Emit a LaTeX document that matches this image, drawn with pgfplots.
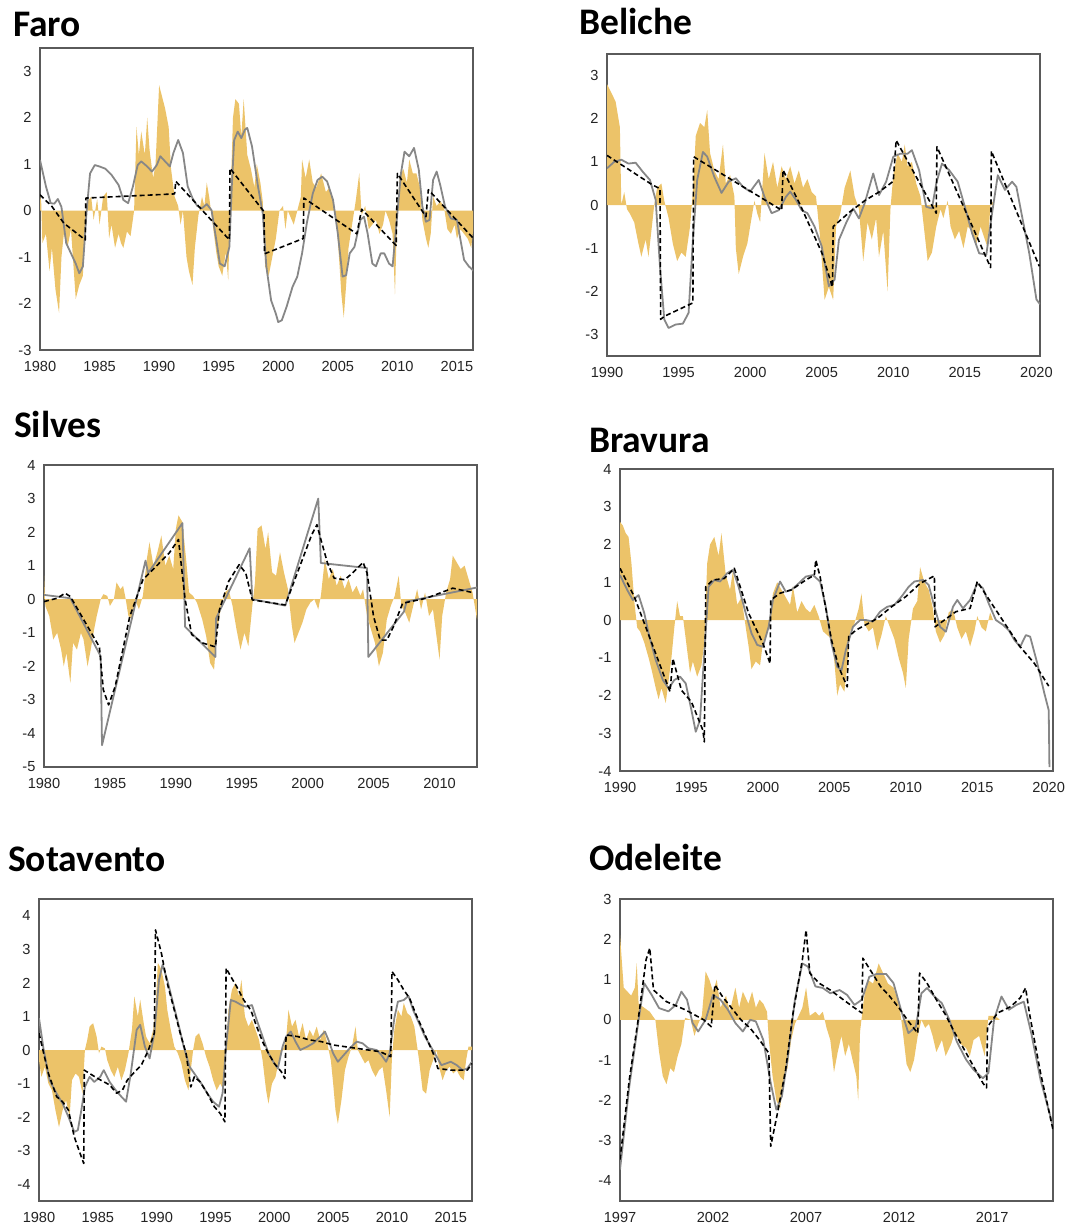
\documentclass[border=0pt]{standalone}
\usepackage{pgfplots}
\pgfplotsset{compat=1.18}
\usepackage{fontspec}
\setmainfont{Liberation Sans}
\newfontfamily\titlefont{Carlito}
\definecolor{spi}{RGB}{236,195,105}
\definecolor{grayline}{RGB}{135,135,135}
\definecolor{frame}{RGB}{90,90,90}
\definecolor{ticktext}{RGB}{35,35,35}
\pgfplotsset{
  panel/.style={
    scale only axis, width=433pt, height=302pt, anchor=south west,
    axis line style={frame, line width=1.1pt},
    major tick length=0pt,
    tick label style={font=\fontsize{14.6}{16}\selectfont, text=ticktext},
    xticklabel shift=8pt, yticklabel shift=5pt,
  },
  spiarea/.style={fill=spi, draw=none},
  ll/.style={grayline, line width=1.8pt, line join=round},
  dl/.style={black, line width=1.6pt, dash pattern=on 5pt off 3pt, line join=round},
}
\newcommand{\paneltitle}[3]{\node[anchor=base west, inner sep=0pt, font=\titlefont\bfseries\fontsize{37.5}{42}\selectfont] at (#1pt,-#2pt) {#3};}
\begin{document}
\begin{tikzpicture}
\path[use as bounding box] (0,0) rectangle (1067pt,-1226pt);
\paneltitle{13}{36}{Faro}
\paneltitle{579}{34}{Beliche}
\paneltitle{14}{437}{Silves}
\paneltitle{589}{452}{Bravura}
\paneltitle{8}{871}{Sotavento}
\paneltitle{589}{870}{Odeleite}

% ---------------- Faro
\begin{axis}[panel, at={(40pt,-350pt)},
  xmin=1980, xmax=2016.35, ymin=-3, ymax=3.5,
  xtick={1980,1985,1990,1995,2000,2005,2010,2015},
  xticklabels={1980,1985,1990,1995,2000,2005,2010,2015},
  ytick={-3,-2,-1,0,1,2,3}, yticklabels={-3,-2,-1,0,1,2,3}]
\addplot[spiarea] coordinates {(1980,0) (1980,0.3) (1980.1,0.2) (1980.2,-0.7) (1980.5,-0.5) (1980.8,-1.3) (1981.0,-0.8) (1981.3,-1.7) (1981.6,-2.2) (1981.8,-1.0) (1982.0,-0.5) (1982.3,-0.8) (1982.6,-0.4) (1983.0,-1.9) (1983.3,-1.6) (1983.6,-1.4) (1983.8,-0.3) (1984.0,0.2) (1984.3,0.3) (1984.5,-0.2) (1984.8,0.25) (1985.0,-0.3) (1985.3,0.3) (1985.6,0.4) (1985.8,-0.6) (1986.0,-0.3) (1986.3,-0.8) (1986.6,-0.5) (1986.8,-0.7) (1987.0,-0.8) (1987.3,-0.45) (1987.6,-0.55) (1987.9,0.0) (1988.1,1.8) (1988.3,1.2) (1988.5,1.7) (1988.8,1.2) (1989.0,2.0) (1989.2,1.3) (1989.5,0.7) (1989.7,1.0) (1990.0,2.7) (1990.2,2.5) (1990.5,2.2) (1990.8,1.8) (1991.0,0.9) (1991.3,0.3) (1991.6,0.1) (1991.8,-0.3) (1992.0,0.0) (1992.3,-1.0) (1992.5,-1.3) (1992.8,-1.6) (1993.0,-0.8) (1993.3,-0.1) (1993.6,0.3) (1993.8,0.1) (1994.0,0.6) (1994.2,0.3) (1994.5,-0.3) (1994.8,-0.9) (1995.0,-1.2) (1995.3,-1.4) (1995.6,-0.9) (1995.8,-1.5) (1996.0,0.3) (1996.2,2.0) (1996.4,2.4) (1996.7,2.3) (1996.9,1.6) (1997.1,2.4) (1997.4,1.2) (1997.7,0.9) (1998.0,0.5) (1998.2,1.0) (1998.5,0.6) (1998.7,0.2) (1998.9,-1.2) (1999.2,-1.4) (1999.5,-1.0) (1999.8,-0.6) (2000.1,0.0) (2000.4,0.1) (2000.6,-0.4) (2000.8,0.0) (2001.3,-0.3) (2001.6,0.0) (2001.9,0.3) (2002.0,1.1) (2002.3,0.7) (2002.6,1.1) (2002.9,0.6) (2003.2,0.5) (2003.6,0.8) (2004.0,0.4) (2004.3,0.5) (2004.6,0.2) (2004.9,-0.3) (2005.1,-1.0) (2005.3,-1.8) (2005.5,-2.3) (2005.7,-1.6) (2005.9,-0.8) (2006.2,-0.3) (2006.5,0.2) (2006.8,0.8) (2007.0,-0.1) (2007.3,0.1) (2007.6,-0.4) (2007.9,-0.3) (2008.2,-0.2) (2008.5,-0.5) (2008.8,-0.3) (2009.0,0.0) (2009.3,-0.2) (2009.6,-0.5) (2009.8,-1.8) (2010.0,0.1) (2010.2,0.7) (2010.5,0.9) (2010.8,0.6) (2011.0,1.1) (2011.3,0.8) (2011.6,0.8) (2011.9,0.5) (2012.1,-0.2) (2012.4,-0.6) (2012.6,-0.8) (2012.8,-0.5) (2013.0,0.3) (2013.3,0.1) (2013.6,0.2) (2013.9,0.1) (2014.2,-0.4) (2014.5,-0.5) (2014.8,-0.3) (2015.0,-0.6) (2015.3,-0.4) (2015.6,-0.5) (2015.9,-0.6) (2016.2,-0.8) (2016.5,-0.1) (2016.5,0)} -- cycle;
\addplot[ll] coordinates {(1980.0,1.09) (1980.5,0.52) (1980.9,0.16) (1981.2,0.15) (1981.5,0.25) (1981.8,0.08) (1982.2,-0.7) (1982.6,-0.92) (1983.0,-1.14) (1983.3,-1.35) (1983.6,-1.2) (1983.9,-0.06) (1984.2,0.8) (1984.6,0.98) (1985.0,0.95) (1985.5,0.9) (1986.0,0.77) (1986.6,0.55) (1987.0,0.23) (1987.4,0.16) (1987.8,0.52) (1988.2,0.98) (1988.5,1.06) (1989.0,0.95) (1989.4,0.84) (1989.8,0.98) (1990.1,1.17) (1990.5,1.06) (1990.9,0.95) (1991.2,1.24) (1991.6,1.52) (1992.0,1.24) (1992.4,0.52) (1992.8,0.27) (1993.2,0.1) (1993.6,0.05) (1994.0,0.14) (1994.4,0.01) (1994.8,-0.63) (1995.1,-1.14) (1995.5,-1.2) (1995.9,-0.78) (1996.1,0.52) (1996.3,1.52) (1996.6,1.7) (1996.9,1.56) (1997.2,1.74) (1997.4,1.78) (1997.8,1.38) (1998.3,0.52) (1998.7,-0.06) (1999.0,-1.2) (1999.4,-1.93) (1999.8,-2.22) (2000.0,-2.4) (2000.3,-2.36) (2000.7,-2.07) (2001.2,-1.64) (2001.6,-1.42) (2002.0,-0.92) (2002.4,-0.27) (2002.9,0.37) (2003.3,0.66) (2003.7,0.73) (2004.1,0.63) (2004.6,0.23) (2005.0,-0.49) (2005.4,-1.42) (2005.7,-1.39) (2006.0,-0.92) (2006.4,-0.78) (2006.9,-0.2) (2007.2,-0.13) (2007.5,-0.49) (2007.9,-1.14) (2008.2,-1.2) (2008.6,-0.92) (2008.9,-0.92) (2009.3,-1.14) (2009.6,-1.2) (2009.9,-0.35) (2010.3,0.8) (2010.6,1.27) (2011.0,1.17) (2011.4,1.35) (2011.8,0.88) (2012.1,0.09) (2012.4,-0.24) (2012.7,-0.2) (2013.0,0.66) (2013.3,0.84) (2013.6,0.55) (2014.0,0.09) (2014.5,-0.17) (2015.0,-0.2) (2015.3,-0.63) (2015.6,-1.06) (2016.0,-1.2) (2016.5,-1.32)};
\addplot[dl] coordinates {(1980.0,0.34) (1981.0,0.09) (1982.0,-0.27) (1983.8,-0.63) (1983.85,0.27) (1991.3,0.36) (1991.4,0.63) (1995.9,-0.63) (1995.95,0.91) (1998.8,-0.02) (1998.85,-0.93) (2002.1,-0.6) (2002.15,0.27) (2004.0,-0.05) (2006.6,-0.5) (2007.0,0.03) (2009.9,-0.75) (2010.0,0.8) (2012.4,-0.13) (2012.6,0.45) (2016.5,-0.63)};
\end{axis}

% ---------------- Beliche
\begin{axis}[panel, at={(607pt,-356pt)},
  xmin=1990, xmax=2020.25, ymin=-3.5, ymax=3.5,
  xtick={1990,1995,2000,2005,2010,2015,2020},
  xticklabels={1990,1995,2000,2005,2010,2015,2020},
  ytick={-3,-2,-1,0,1,2,3}, yticklabels={-3,-2,-1,0,1,2,3}]
\addplot[spiarea] coordinates {(1990,0) (1990.0,2.8) (1990.3,2.6) (1990.6,2.4) (1990.9,1.8) (1991.0,0.0) (1991.2,0.3) (1991.4,-0.1) (1991.6,-0.2) (1991.9,-0.4) (1992.2,-0.9) (1992.4,-1.2) (1992.7,-0.8) (1992.9,-1.2) (1993.1,-0.6) (1993.3,0.0) (1993.5,0.4) (1993.8,0.5) (1994.0,0.1) (1994.3,-0.3) (1994.6,-0.9) (1994.9,-1.3) (1995.2,-1.1) (1995.5,-1.2) (1995.8,-0.5) (1996.0,0.3) (1996.2,1.6) (1996.5,1.9) (1996.8,1.8) (1997.0,2.2) (1997.2,1.2) (1997.5,0.8) (1997.8,0.6) (1998.1,1.4) (1998.3,0.5) (1998.6,0.7) (1998.9,0.2) (1999.0,-1.0) (1999.2,-1.6) (1999.5,-1.2) (1999.8,-0.9) (2000.0,-0.5) (2000.3,0.1) (2000.5,-0.2) (2000.7,-0.4) (2001.0,1.2) (2001.3,0.6) (2001.6,1.0) (2001.9,0.4) (2002.2,0.9) (2002.5,0.6) (2002.8,0.9) (2003.1,0.5) (2003.4,0.8) (2003.7,0.4) (2004.0,0.6) (2004.3,0.3) (2004.6,0.2) (2004.9,-0.8) (2005.2,-2.2) (2005.5,-1.9) (2005.8,-2.2) (2006.0,-0.5) (2006.3,-0.2) (2006.6,0.4) (2007.0,0.8) (2007.3,0.2) (2007.6,-0.1) (2007.9,-1.3) (2008.2,-0.4) (2008.5,-0.8) (2008.8,-0.3) (2009.0,-1.2) (2009.3,-0.6) (2009.6,-2.0) (2009.8,-0.1) (2010.0,0.7) (2010.3,1.2) (2010.6,1.0) (2010.8,1.4) (2011.0,0.9) (2011.3,1.0) (2011.6,0.5) (2011.9,0.2) (2012.1,-0.4) (2012.4,-1.3) (2012.7,-1.1) (2013.0,-0.5) (2013.3,-0.1) (2013.5,-0.3) (2013.8,0.1) (2014.0,-0.5) (2014.3,-0.8) (2014.6,-0.6) (2014.9,-1.0) (2015.2,-0.5) (2015.5,-0.6) (2015.8,-0.9) (2016.1,-0.5) (2016.4,-0.8) (2016.6,-1.0) (2016.8,0.1) (2017.0,0.05) (2017.05,0)} -- cycle;
\addplot[ll] coordinates {(1990.0,0.85) (1990.5,1.0) (1991.0,1.05) (1991.5,0.96) (1992.0,0.98) (1992.5,0.77) (1993.0,0.58) (1993.4,0.12) (1993.7,-1.42) (1994.0,-2.65) (1994.3,-2.85) (1994.8,-2.77) (1995.3,-2.75) (1995.7,-2.5) (1996.0,-0.81) (1996.3,0.58) (1996.7,1.23) (1997.0,1.12) (1997.5,0.65) (1998.0,0.28) (1998.5,0.54) (1999.0,0.62) (1999.5,0.42) (2000.0,0.31) (2000.6,0.58) (2001.0,0.19) (2001.5,-0.19) (2002.0,-0.12) (2002.5,0.19) (2002.8,0.31) (2003.2,0.12) (2003.6,-0.12) (2004.0,-0.19) (2004.5,-0.5) (2005.0,-0.96) (2005.5,-1.88) (2005.9,-1.73) (2006.2,-0.81) (2006.7,-0.42) (2007.2,-0.08) (2007.6,-0.31) (2008.0,0.04) (2008.6,0.73) (2009.0,0.23) (2009.5,0.54) (2010.0,1.12) (2010.5,1.19) (2011.0,1.19) (2011.3,1.27) (2011.8,0.81) (2012.3,-0.04) (2012.7,-0.08) (2013.0,0.5) (2013.4,0.96) (2013.9,0.81) (2014.5,0.54) (2015.0,-0.04) (2015.5,-0.65) (2016.0,-1.12) (2016.5,-1.15) (2016.9,-0.19) (2017.3,0.69) (2017.8,0.35) (2018.3,0.54) (2018.6,0.42) (2019.0,-0.27) (2019.5,-1.12) (2020.0,-2.19) (2020.25,-2.3)};
\addplot[dl] coordinates {(1990.0,1.15) (1993.2,0.46) (1993.7,0.38) (1993.75,-2.65) (1994.0,-2.58) (1996.0,-2.27) (1996.05,1.12) (2002.2,-0.12) (2002.3,0.81) (2003.5,0.0) (2005.0,-1.1) (2005.75,-1.9) (2005.8,-0.5) (2007.0,-0.15) (2008.0,0.1) (2009.0,0.3) (2010.0,0.55) (2010.2,1.5) (2013.0,-0.19) (2013.05,1.35) (2016.8,-1.45) (2016.85,1.25) (2020.2,-1.42)};
\end{axis}

% ---------------- Silves
\begin{axis}[panel, at={(44pt,-767pt)},
  xmin=1980, xmax=2012.84, ymin=-5, ymax=4,
  xtick={1980,1985,1990,1995,2000,2005,2010},
  xticklabels={1980,1985,1990,1995,2000,2005,2010},
  ytick={-5,-4,-3,-2,-1,0,1,2,3,4}, yticklabels={-5,-4,-3,-2,-1,0,1,2,3,4}]
\addplot[spiarea] coordinates {(1980,0) (1980.0,0.7) (1980.1,-0.2) (1980.4,-0.5) (1980.7,-1.2) (1981.0,-1.0) (1981.3,-1.5) (1981.5,-2.0) (1981.7,-1.6) (1982.0,-2.5) (1982.2,-1.3) (1982.5,-1.5) (1982.8,-1.0) (1983.0,-1.2) (1983.3,-2.0) (1983.5,-1.6) (1983.8,-0.9) (1984.0,-0.5) (1984.3,0.0) (1984.5,0.15) (1984.8,0.1) (1985.0,-0.2) (1985.3,0.0) (1985.5,0.5) (1985.8,0.3) (1986.0,0.4) (1986.2,0.0) (1986.4,-0.5) (1986.7,-0.6) (1986.9,0.0) (1987.2,-0.3) (1987.5,0.1) (1987.8,1.2) (1988.0,1.7) (1988.3,1.0) (1988.6,1.4) (1988.9,1.9) (1989.2,1.0) (1989.5,1.3) (1989.8,0.9) (1990.0,2.1) (1990.2,2.5) (1990.5,2.3) (1990.8,1.1) (1991.0,0.2) (1991.3,0.1) (1991.6,-0.1) (1992.0,-0.6) (1992.3,-1.1) (1992.6,-1.9) (1992.9,-2.1) (1993.1,-1.0) (1993.4,-0.3) (1993.7,0.2) (1994.0,0.3) (1994.3,-0.2) (1994.6,-0.9) (1994.9,-1.5) (1995.2,-1.0) (1995.5,-1.4) (1995.8,-0.2) (1996.0,0.5) (1996.2,2.1) (1996.5,2.2) (1996.8,1.5) (1997.0,2.0) (1997.3,0.8) (1997.6,0.7) (1997.9,1.4) (1998.2,0.8) (1998.5,0.3) (1998.8,-0.8) (1999.0,-1.3) (1999.3,-1.0) (1999.6,-0.7) (1999.9,-0.3) (2000.2,-0.1) (2000.5,0.0) (2000.8,-0.3) (2001.0,0.1) (2001.3,1.2) (2001.6,0.6) (2001.9,0.9) (2002.2,0.4) (2002.5,0.7) (2002.8,0.3) (2003.1,0.6) (2003.4,0.2) (2003.7,0.4) (2004.0,0.1) (2004.2,0.3) (2004.5,-0.5) (2004.8,-0.9) (2005.1,-1.3) (2005.4,-2.0) (2005.7,-1.6) (2006.0,-0.6) (2006.3,-0.2) (2006.6,0.1) (2006.9,0.7) (2007.1,-0.2) (2007.4,-0.4) (2007.7,-0.7) (2008.0,-0.2) (2008.3,0.3) (2008.6,-0.3) (2008.9,0.2) (2009.2,-0.5) (2009.5,-0.3) (2009.8,-1.2) (2010.0,-1.8) (2010.2,-0.5) (2010.5,0.2) (2010.8,0.6) (2011.0,1.3) (2011.3,1.1) (2011.6,0.9) (2011.9,1.0) (2012.2,0.6) (2012.5,0.2) (2012.84,-0.6) (2012.84,0)} -- cycle;
\addplot[ll] coordinates {(1980.0,0.13) (1982.0,0.03) (1984.3,-1.7) (1984.4,-4.35) (1987.7,1.15) (1987.9,0.78) (1990.5,2.27) (1990.7,-0.82) (1993.0,-1.72) (1993.05,-0.57) (1995.6,1.52) (1995.8,0.0) (1998.3,-0.19) (2000.8,3.0) (2001.0,1.08) (2004.5,0.93) (2004.6,-1.72) (2007.3,-0.37) (2007.5,-0.07) (2012.84,0.35)};
\addplot[dl] coordinates {(1980.0,-0.07) (1981.0,0.03) (1981.6,0.18) (1982.0,0.08) (1984.2,-1.42) (1984.5,-2.7) (1984.9,-3.15) (1985.4,-2.6) (1986.5,-0.52) (1987.5,0.58) (1988.5,0.98) (1989.5,1.38) (1990.2,1.78) (1990.7,0.0) (1991.2,-1.05) (1992.0,-1.3) (1993.0,-1.42) (1993.3,-0.32) (1994.0,0.53) (1994.8,1.03) (1995.3,0.78) (1995.8,-0.02) (1998.3,-0.17) (2000.3,1.92) (2000.7,2.22) (2001.0,1.78) (2001.5,1.08) (2002.0,0.63) (2002.8,0.58) (2003.4,0.78) (2004.2,1.1) (2004.5,0.78) (2005.0,-0.52) (2005.5,-1.22) (2006.0,-1.22) (2006.5,-0.82) (2007.2,-0.12) (2009.0,0.03) (2011.0,0.33) (2012.5,0.2)};
\end{axis}

% ---------------- Bravura
\begin{axis}[panel, at={(620pt,-771pt)},
  xmin=1990, xmax=2020.3, ymin=-4, ymax=4,
  xtick={1990,1995,2000,2005,2010,2015,2020},
  xticklabels={1990,1995,2000,2005,2010,2015,2020},
  ytick={-4,-3,-2,-1,0,1,2,3,4}, yticklabels={-4,-3,-2,-1,0,1,2,3,4}]
\addplot[spiarea] coordinates {(1990,0) (1990.0,2.6) (1990.2,2.5) (1990.4,2.3) (1990.6,2.2) (1990.8,1.5) (1991.0,0.5) (1991.2,-0.2) (1991.4,-0.3) (1991.7,-0.6) (1992.0,-1.0) (1992.2,-1.3) (1992.5,-1.8) (1992.7,-2.1) (1992.9,-1.8) (1993.2,-2.2) (1993.4,-1.6) (1993.6,-1.0) (1993.8,-0.2) (1994.0,0.5) (1994.2,0.1) (1994.4,0.1) (1994.6,-0.5) (1994.9,-1.4) (1995.1,-1.1) (1995.4,-1.5) (1995.7,-1.2) (1995.9,-0.6) (1996.1,1.5) (1996.3,2.0) (1996.6,2.2) (1996.9,1.7) (1997.1,2.3) (1997.4,1.2) (1997.7,0.8) (1997.9,1.3) (1998.2,0.4) (1998.5,0.6) (1998.8,-0.2) (1999.0,-0.7) (1999.2,-1.3) (1999.5,-1.1) (1999.8,-1.2) (2000.0,-0.6) (2000.3,-0.3) (2000.5,0.0) (2000.7,0.7) (2001.0,1.0) (2001.3,0.8) (2001.6,0.6) (2001.9,0.4) (2002.1,0.9) (2002.4,0.2) (2002.7,0.5) (2003.0,0.3) (2003.3,0.2) (2003.6,0.4) (2003.9,0.1) (2004.2,-0.3) (2004.5,-0.4) (2004.8,-0.5) (2005.0,-1.1) (2005.2,-2.0) (2005.4,-1.7) (2005.7,-1.9) (2005.9,-1.2) (2006.1,-0.3) (2006.4,-0.1) (2006.7,0.3) (2006.9,0.7) (2007.1,-0.1) (2007.4,-0.3) (2007.7,-0.2) (2008.0,-0.8) (2008.3,-0.4) (2008.6,0.1) (2008.9,-0.2) (2009.2,-0.5) (2009.5,-1.0) (2009.8,-1.4) (2010.0,-1.8) (2010.2,-0.5) (2010.5,0.3) (2010.8,0.5) (2011.0,1.4) (2011.3,1.0) (2011.6,0.8) (2011.9,0.3) (2012.1,-0.3) (2012.4,-0.6) (2012.7,-0.4) (2013.0,0.2) (2013.3,0.3) (2013.6,-0.2) (2013.9,-0.5) (2014.2,-0.3) (2014.5,-0.7) (2014.8,-0.3) (2015.0,0.1) (2015.3,-0.2) (2015.6,-0.3) (2015.9,0.2) (2016.1,0.0)} -- cycle;
\addplot[ll] coordinates {(1990.0,1.19) (1990.5,0.8) (1990.9,0.53) (1991.3,0.66) (1991.7,0.18) (1992.0,-0.35) (1992.5,-1.06) (1993.0,-1.59) (1993.4,-1.81) (1993.8,-1.59) (1994.2,-1.5) (1994.6,-1.68) (1995.0,-2.39) (1995.3,-2.96) (1995.6,-2.65) (1995.9,-0.88) (1996.2,0.88) (1996.6,1.06) (1997.0,1.02) (1997.5,1.24) (1997.9,1.33) (1998.3,0.88) (1998.8,0.18) (1999.2,-0.35) (1999.6,-0.66) (2000.0,-0.71) (2000.4,-0.18) (2000.7,0.53) (2001.2,1.02) (2001.6,0.75) (2002.0,0.8) (2002.5,0.97) (2003.0,1.15) (2003.5,1.19) (2004.0,1.02) (2004.4,0.35) (2004.8,-0.62) (2005.2,-1.24) (2005.5,-1.33) (2005.8,-0.8) (2006.3,-0.18) (2006.8,0.0) (2007.2,0.0) (2007.7,-0.04) (2008.2,0.22) (2008.7,0.35) (2009.2,0.4) (2009.7,0.62) (2010.2,0.88) (2010.6,1.02) (2011.2,1.06) (2011.6,0.93) (2012.0,0.35) (2012.4,-0.18) (2012.8,-0.31) (2013.3,0.35) (2013.6,0.53) (2014.0,0.31) (2014.5,0.53) (2015.0,0.97) (2015.4,0.84) (2015.8,0.44) (2016.3,0.0) (2016.8,-0.13) (2017.2,-0.27) (2017.6,-0.53) (2018.0,-0.71) (2018.4,-0.4) (2018.7,-0.44) (2019.2,-1.15) (2019.7,-1.95) (2020.0,-2.39) (2020.05,-3.9)};
\addplot[dl] coordinates {(1990.0,1.37) (1991.0,0.62) (1993.5,-1.9) (1993.7,-1.02) (1994.3,-1.86) (1995.0,-2.17) (1995.8,-2.92) (1995.9,-3.23) (1996.0,0.88) (1996.5,1.06) (1997.3,1.1) (1998.0,1.37) (1999.0,0.18) (2000.0,-0.62) (2000.5,-1.15) (2000.55,0.53) (2001.2,0.71) (2002.0,0.8) (2003.0,1.06) (2003.6,1.19) (2003.7,1.59) (2004.0,1.15) (2004.8,-0.53) (2005.3,-1.24) (2005.9,-1.77) (2006.0,-0.44) (2006.5,-0.27) (2008.0,0.04) (2009.0,0.35) (2010.0,0.62) (2011.0,0.97) (2012.0,1.17) (2012.05,-0.18) (2013.5,0.22) (2014.5,0.31) (2015.0,1.02) (2016.0,0.44) (2018.0,-0.71) (2019.0,-1.15) (2020.0,-1.75)};
\end{axis}

% ---------------- Sotavento
\begin{axis}[panel, at={(39pt,-1201pt)},
  xmin=1980, xmax=2016.8, ymin=-4.5, ymax=4.5,
  xtick={1980,1985,1990,1995,2000,2005,2010,2015},
  xticklabels={1980,1985,1990,1995,2000,2005,2010,2015},
  ytick={-4,-3,-2,-1,0,1,2,3,4}, yticklabels={-4,-3,-2,-1,0,1,2,3,4}]
\addplot[spiarea] coordinates {(1980,0) (1980.0,-0.3) (1980.2,-0.8) (1980.5,-0.5) (1980.8,-1.0) (1981.1,-1.2) (1981.4,-1.8) (1981.7,-2.3) (1982.0,-1.8) (1982.3,-1.5) (1982.6,-2.0) (1982.8,-0.9) (1983.1,-0.7) (1983.4,-0.8) (1983.7,-1.3) (1983.9,0.0) (1984.1,0.3) (1984.3,0.7) (1984.6,0.8) (1984.9,0.4) (1985.1,-0.1) (1985.3,0.1) (1985.6,0.05) (1985.8,-0.3) (1986.1,-0.6) (1986.4,-0.8) (1986.7,-0.5) (1987.0,-0.9) (1987.3,-0.6) (1987.6,-0.1) (1987.9,0.6) (1988.1,1.6) (1988.4,1.0) (1988.6,1.5) (1988.9,0.8) (1989.1,0.4) (1989.4,0.2) (1989.7,0.6) (1989.9,1.2) (1990.1,2.6) (1990.4,2.4) (1990.7,1.9) (1990.9,1.2) (1991.2,0.6) (1991.5,0.1) (1991.8,-0.1) (1992.1,-0.4) (1992.4,-0.9) (1992.7,-1.2) (1992.9,-0.6) (1993.1,0.0) (1993.3,0.4) (1993.6,0.5) (1993.9,0.2) (1994.2,-0.2) (1994.5,-0.5) (1994.8,-0.9) (1995.1,-1.2) (1995.4,-1.0) (1995.7,-1.2) (1995.9,0.0) (1996.1,1.2) (1996.4,1.8) (1996.7,2.0) (1997.0,1.6) (1997.2,2.1) (1997.5,1.0) (1997.8,0.7) (1998.1,0.9) (1998.4,0.6) (1998.7,0.3) (1999.0,-0.3) (1999.3,-1.2) (1999.5,-1.6) (1999.8,-1.0) (2000.1,-0.8) (2000.4,-0.3) (2000.7,0.0) (2001.0,0.3) (2001.2,1.2) (2001.5,0.7) (2001.8,0.9) (2002.1,0.4) (2002.4,0.8) (2002.7,0.3) (2003.0,0.6) (2003.3,0.4) (2003.6,0.7) (2003.9,0.3) (2004.2,0.6) (2004.5,0.2) (2004.8,-0.3) (2005.0,-1.0) (2005.2,-1.8) (2005.4,-2.2) (2005.7,-1.5) (2006.0,-0.6) (2006.3,-0.2) (2006.6,0.1) (2006.9,0.7) (2007.1,0.0) (2007.4,-0.2) (2007.7,-0.4) (2008.0,-0.3) (2008.3,-0.6) (2008.6,-0.8) (2008.9,-0.6) (2009.2,-0.5) (2009.5,-1.2) (2009.8,-2.0) (2010.0,-0.2) (2010.2,0.6) (2010.5,1.2) (2010.8,1.0) (2011.0,1.4) (2011.3,1.1) (2011.6,1.0) (2011.9,0.7) (2012.1,0.2) (2012.3,-0.3) (2012.6,-1.2) (2012.9,-1.3) (2013.2,-0.6) (2013.5,-0.3) (2013.8,0.0) (2014.0,-0.5) (2014.3,-0.9) (2014.6,-0.6) (2014.9,-0.5) (2015.2,-0.7) (2015.5,-0.6) (2015.8,-0.8) (2016.1,-0.9) (2016.3,-0.3) (2016.5,0.1) (2016.8,0.1) (2016.8,0)} -- cycle;
\addplot[ll] coordinates {(1980.0,0.95) (1980.4,0.0) (1980.9,-0.9) (1981.5,-1.3) (1982.0,-1.59) (1982.5,-1.99) (1983.0,-2.44) (1983.3,-2.39) (1983.6,-1.79) (1983.9,-1.1) (1984.3,-0.8) (1984.7,-0.95) (1985.2,-0.8) (1985.5,-0.6) (1986.0,-0.95) (1986.5,-1.19) (1987.0,-1.39) (1987.4,-1.54) (1987.8,-0.7) (1988.3,0.6) (1988.6,0.75) (1989.0,0.1) (1989.4,-0.25) (1989.8,0.5) (1990.2,2.09) (1990.5,2.54) (1990.9,2.09) (1991.4,1.39) (1991.9,0.7) (1992.3,0.1) (1992.8,-0.5) (1993.3,-0.75) (1993.8,-1.0) (1994.3,-1.29) (1994.8,-1.54) (1995.3,-1.69) (1995.6,-1.29) (1995.9,0.1) (1996.3,1.49) (1996.7,1.44) (1997.2,1.34) (1997.6,1.29) (1998.1,1.34) (1998.5,0.9) (1999.0,0.4) (1999.5,-0.1) (2000.0,-0.4) (2000.3,-0.55) (2000.7,0.1) (2001.0,0.4) (2001.4,0.55) (2001.8,0.25) (2002.2,0.0) (2002.8,0.1) (2003.3,0.2) (2003.9,0.4) (2004.3,0.55) (2004.6,0.3) (2005.0,-0.1) (2005.4,-0.35) (2005.9,-0.15) (2006.4,0.05) (2007.0,0.25) (2007.5,0.2) (2008.0,0.05) (2008.7,0.0) (2009.1,-0.15) (2009.5,-0.35) (2009.8,-0.1) (2010.2,0.95) (2010.5,1.44) (2011.0,1.49) (2011.4,1.61) (2011.8,1.19) (2012.3,0.8) (2012.8,0.4) (2013.3,0.1) (2013.8,-0.2) (2014.2,-0.45) (2014.6,-0.4) (2015.0,-0.35) (2015.5,-0.45) (2016.0,-0.6) (2016.4,-0.55) (2016.8,-0.35)};
\addplot[dl] coordinates {(1980.0,0.5) (1980.8,-0.7) (1981.5,-1.39) (1982.0,-1.54) (1982.5,-1.79) (1983.0,-2.59) (1983.4,-2.99) (1983.8,-3.38) (1983.85,-0.6) (1984.3,-0.7) (1985.0,-0.85) (1986.0,-1.04) (1986.6,-1.29) (1987.1,-1.19) (1987.5,-0.9) (1988.0,-0.7) (1988.7,-0.45) (1989.3,0.0) (1989.8,0.5) (1989.9,3.58) (1990.4,2.89) (1990.9,1.99) (1991.5,1.19) (1992.0,0.5) (1992.5,-0.1) (1992.9,-1.1) (1993.2,-0.8) (1993.7,-0.95) (1994.3,-1.29) (1994.9,-1.69) (1995.4,-1.89) (1995.8,-2.14) (1995.9,2.44) (1996.3,2.19) (1996.8,1.89) (1997.4,1.49) (1998.0,1.19) (1998.5,0.7) (1999.0,0.25) (1999.5,-0.1) (2000.0,-0.4) (2000.6,-0.65) (2000.9,-0.85) (2001.0,0.45) (2002.0,0.4) (2003.0,0.3) (2004.0,0.25) (2005.0,0.15) (2006.0,0.1) (2007.0,0.05) (2008.0,0.0) (2009.0,-0.05) (2009.9,-0.2) (2010.0,2.34) (2010.5,2.09) (2011.0,1.79) (2011.5,1.54) (2012.0,1.09) (2012.5,0.7) (2013.0,0.3) (2013.5,-0.1) (2013.9,-0.55) (2015.0,-0.6) (2016.4,-0.6) (2016.8,-0.4)};
\end{axis}

% ---------------- Odeleite
\begin{axis}[panel, at={(620pt,-1201pt)},
  xmin=1997, xmax=2020.27, ymin=-4.5, ymax=3,
  xtick={1997,2002,2007,2012,2017},
  xticklabels={1997,2002,2007,2012,2017},
  ytick={-4,-3,-2,-1,0,1,2,3}, yticklabels={-4,-3,-2,-1,0,1,2,3}]
\addplot[spiarea] coordinates {(1997,0) (1997.0,2.1) (1997.2,0.8) (1997.4,0.7) (1997.6,0.6) (1997.8,0.8) (1997.9,1.4) (1998.0,0.4) (1998.3,0.3) (1998.6,0.2) (1998.9,0.0) (1999.1,-0.8) (1999.3,-1.4) (1999.5,-1.6) (1999.7,-1.2) (1999.9,-1.3) (2000.1,-0.9) (2000.3,-0.6) (2000.5,0.05) (2000.8,0.0) (2001.0,-0.4) (2001.2,-0.1) (2001.4,0.1) (2001.6,1.2) (2001.8,1.0) (2002.0,0.7) (2002.2,1.0) (2002.4,0.3) (2002.7,0.6) (2002.9,0.2) (2003.2,0.8) (2003.4,0.3) (2003.6,0.7) (2003.9,0.4) (2004.1,0.7) (2004.3,0.3) (2004.5,0.5) (2004.7,0.4) (2004.9,0.2) (2005.0,-0.5) (2005.2,-1.4) (2005.4,-2.0) (2005.6,-2.2) (2005.8,-1.5) (2006.0,-1.2) (2006.2,-0.5) (2006.4,-0.1) (2006.6,0.1) (2006.8,0.3) (2007.0,0.8) (2007.2,0.1) (2007.5,0.2) (2007.7,0.1) (2007.9,0.2) (2008.1,-0.2) (2008.3,-0.5) (2008.5,-1.3) (2008.7,-0.8) (2008.9,-0.4) (2009.1,-0.9) (2009.3,-0.6) (2009.5,-1.0) (2009.7,-1.4) (2009.8,-2.0) (2009.9,-0.3) (2010.1,0.5) (2010.3,1.0) (2010.6,0.9) (2010.9,1.4) (2011.1,1.2) (2011.4,0.9) (2011.7,0.8) (2012.0,0.4) (2012.2,-0.3) (2012.4,-1.1) (2012.6,-1.3) (2012.8,-1.0) (2013.0,-0.4) (2013.2,0.0) (2013.4,-0.2) (2013.6,-0.1) (2013.8,-0.4) (2014.0,-0.8) (2014.3,-0.5) (2014.5,-0.9) (2014.8,-0.6) (2015.0,-0.3) (2015.3,-0.6) (2015.6,-0.7) (2015.8,-0.9) (2016.0,-0.5) (2016.3,-0.4) (2016.6,-0.9) (2016.8,0.1) (2017.1,0.1) (2017.3,0.05) (2017.4,0)} -- cycle;
\addplot[ll] coordinates {(1997.0,-3.72) (1997.5,-1.65) (1998.0,0.0) (1998.3,0.91) (1998.7,0.62) (1999.1,0.29) (1999.6,0.21) (2000.0,0.37) (2000.3,0.7) (2000.6,0.5) (2000.9,-0.08) (2001.2,-0.29) (2001.6,0.0) (2002.0,0.62) (2002.4,0.5) (2002.8,0.25) (2003.2,-0.08) (2003.6,-0.29) (2004.0,0.0) (2004.3,-0.04) (2004.7,-0.5) (2005.1,-1.57) (2005.4,-2.23) (2005.7,-1.9) (2006.0,-0.99) (2006.4,0.5) (2006.8,1.4) (2007.1,1.32) (2007.5,0.83) (2007.9,0.79) (2008.3,0.66) (2008.8,0.74) (2009.2,0.62) (2009.6,0.37) (2010.0,0.5) (2010.4,1.07) (2010.8,1.14) (2011.3,1.14) (2011.7,0.91) (2012.1,0.25) (2012.5,-0.33) (2012.9,-0.17) (2013.2,0.66) (2013.5,0.79) (2013.9,0.58) (2014.3,0.41) (2014.7,0.0) (2015.1,-0.54) (2015.6,-0.99) (2016.0,-1.24) (2016.5,-1.45) (2016.8,-1.32) (2017.1,0.0) (2017.5,0.58) (2017.9,0.25) (2018.3,0.37) (2018.7,0.45) (2019.1,-0.33) (2019.6,-1.49) (2020.27,-2.64)};
\addplot[dl] coordinates {(1997.0,-3.47) (1997.5,-1.49) (1998.0,0.08) (1998.4,1.49) (1998.6,1.78) (1998.8,0.74) (1999.5,0.45) (2000.5,0.25) (2001.5,0.0) (2001.9,-0.17) (2002.1,0.87) (2002.5,0.58) (2003.0,0.29) (2003.5,0.0) (2004.0,-0.21) (2004.5,-0.5) (2005.0,-0.83) (2005.1,-3.14) (2005.5,-2.23) (2005.9,-1.24) (2006.3,0.17) (2006.8,1.49) (2007.0,2.23) (2007.2,1.16) (2007.7,0.91) (2008.3,0.74) (2009.0,0.5) (2009.5,0.33) (2010.0,0.17) (2010.05,1.53) (2010.5,1.2) (2011.0,0.83) (2011.5,0.58) (2012.0,0.29) (2012.5,-0.04) (2013.0,-0.33) (2013.1,1.16) (2013.5,0.91) (2014.0,0.5) (2014.5,0.12) (2015.0,-0.33) (2015.5,-0.74) (2016.0,-1.16) (2016.5,-1.57) (2016.7,-1.69) (2016.75,-0.17) (2017.3,0.17) (2018.0,0.33) (2018.5,0.54) (2018.8,0.79) (2019.0,0.17) (2019.6,-1.32) (2020.27,-2.73)};
\end{axis}
\end{tikzpicture}
\end{document}
